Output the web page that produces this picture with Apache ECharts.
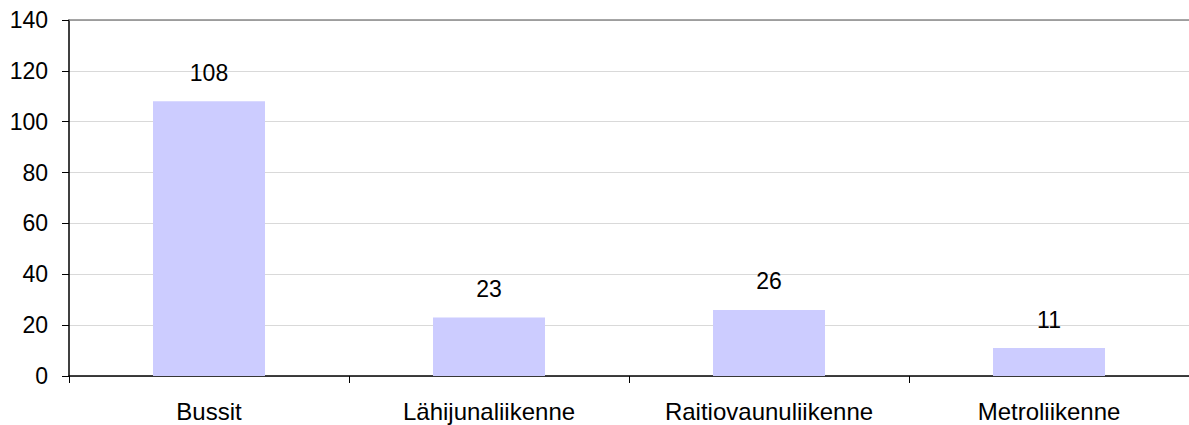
<!DOCTYPE html>
<html>
<head>
<meta charset="utf-8">
<script src="https://cdn.jsdelivr.net/npm/echarts@6/dist/echarts.min.js"></script>
<style>
  html, body { margin: 0; padding: 0; background: #fff; }
  #chart { width: 1189px; height: 425px; }
</style>
</head>
<body>
<div id="chart"></div>
<script>
var categories = ['Bussit', 'Lähijunaliikenne', 'Raitiovaunuliikenne', 'Metroliikenne'];
var values = [108, 23, 26, 11];
var yTicks = { min: 0, max: 140, interval: 20 };

var font = 'Liberation Sans, Arial, sans-serif';
var chart = echarts.init(document.getElementById('chart'), null, { renderer: 'svg' });
chart.setOption({
  animation: false,
  grid: { left: 69, right: 0, top: 20, bottom: 49 },
  xAxis: [{
    type: 'category', data: categories,
    axisLine: { lineStyle: { color: '#000', width: 1.5 } },
    axisTick: { show: true, length: 7, lineStyle: { color: '#000' } },
    axisLabel: { color: '#000', fontSize: 24, fontFamily: font, margin: 23 }
  }, {
    type: 'category', data: categories, position: 'top',
    axisLine: { show: true, lineStyle: { color: '#888', width: 1.5 } },
    axisTick: { show: false }, axisLabel: { show: false }
  }],
  yAxis: {
    type: 'value', min: yTicks.min, max: yTicks.max, interval: yTicks.interval,
    axisLine: { show: true, lineStyle: { color: '#000', width: 1.5 } },
    axisTick: { show: true, length: 7, lineStyle: { color: '#000' } },
    axisLabel: { color: '#000', fontSize: 23, fontFamily: font, margin: 21 },
    splitLine: { lineStyle: { color: '#d9d9d9', width: 1 } }
  },
  series: [{
    type: 'bar', data: values, barWidth: '40%',
    itemStyle: { color: '#ccccff' },
    label: { show: true, position: 'top', distance: 17, color: '#000', fontSize: 23, fontFamily: font }
  }]
});
</script>
</body>
</html>
